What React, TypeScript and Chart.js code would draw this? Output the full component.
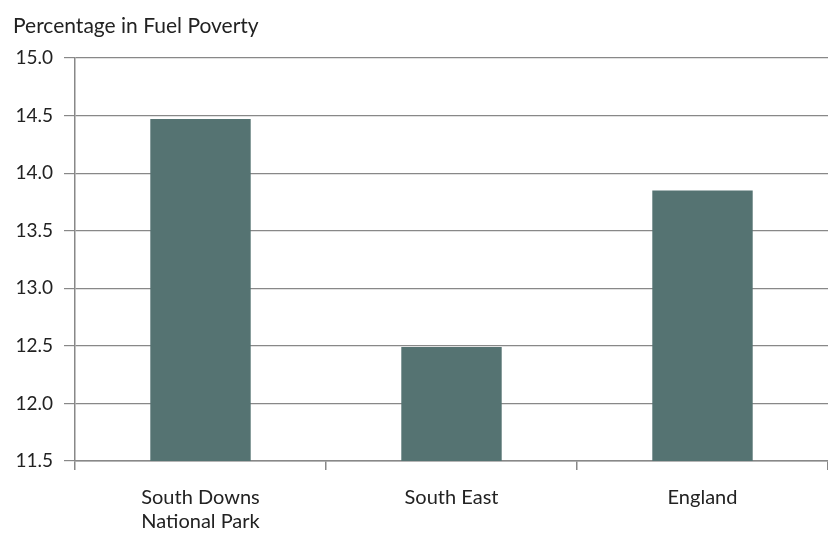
import React, { useEffect, useRef } from "react";
import { Chart, registerables } from "chart.js";

Chart.register(...registerables);

const categories: (string | string[])[] = [["South Downs", "National Park"], "South East", "England"];
const values: number[] = [14.47, 12.49, 13.85];
const yTicks: number[] = [11.5, 12.0, 12.5, 13.0, 13.5, 14.0, 14.5, 15.0];
const titleText = "Percentage in Fuel Poverty";

const FONT = "Lato, 'Open Sans', sans-serif";

export default function App() {
  const ref = useRef<HTMLCanvasElement | null>(null);
  useEffect(() => {
    document.body.style.margin = "0";
    const canvas = ref.current!;
    const titlePlugin = {
      id: "topTitle",
      afterDraw(chart: any) {
        const ctx = chart.ctx;
        ctx.save();
        ctx.font = `21px ${FONT}`;
        ctx.fillStyle = "#222";
        ctx.textAlign = "left";
        ctx.textBaseline = "middle";
        ctx.fillText(titleText, 13, 26);
        ctx.restore();
      },
    };
    const chart = new Chart(canvas, {
      type: "bar",
      data: {
        labels: categories,
        datasets: [
          {
            data: values,
            backgroundColor: "#557372",
            borderWidth: 0,
            barPercentage: 0.4,
            categoryPercentage: 1,
          },
        ],
      },
      options: {
        responsive: false,
        animation: false,
        layout: { padding: { top: 58, left: 0, right: 0, bottom: 0 } },
        plugins: { legend: { display: false }, tooltip: { enabled: false }, title: { display: false } },
        scales: {
          x: {
            grid: { display: true, drawOnChartArea: false, drawTicks: true, tickLength: 9, color: "#888", lineWidth: 1.5, offset: true },
            border: { display: true, color: "#888", width: 1.5 },
            ticks: { color: "#222", font: { family: FONT, size: 20, lineHeight: 1.2 }, padding: 16, maxRotation: 0, autoSkip: false },
            afterFit: (s: any) => { s.height = 75; },
          },
          y: {
            min: 11.5,
            max: 15.0,
            afterBuildTicks: (s: any) => { s.ticks = yTicks.map((v) => ({ value: v })); },
            grid: { color: "#888", lineWidth: 1.2, tickLength: 11, drawTicks: true },
            border: { display: true, color: "#888", width: 1.5 },
            ticks: {
              color: "#222",
              font: { family: FONT, size: 19 },
              padding: 11,
              callback: (v: any) => Number(v).toFixed(1),
            },
            afterFit: (s: any) => { s.width = 75; },
          },
        },
      },
      plugins: [titlePlugin],
    });
    return () => chart.destroy();
  }, []);
  return (
    <div style={{ width: 828, height: 536, background: "#fff" }}>
      <canvas ref={ref} width={828} height={536} />
    </div>
  );
}
